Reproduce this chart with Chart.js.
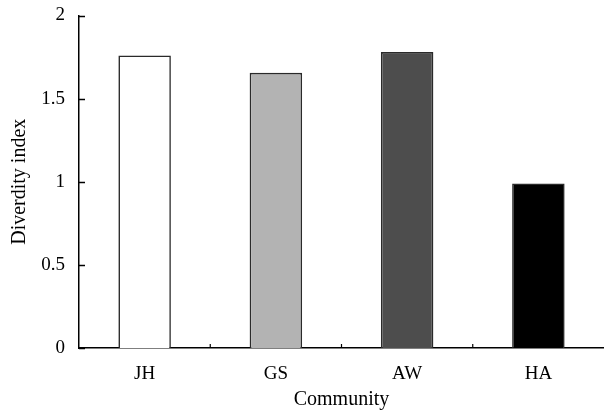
<!DOCTYPE html>
<html>
<head>
<meta charset="utf-8">
<script src="https://cdn.jsdelivr.net/npm/chart.js@4"></script>
<style>
html,body{margin:0;padding:0;background:#fff;}
#wrap{width:604px;height:412px;}
</style>
</head>
<body>
<div id="wrap"><canvas id="c" width="604" height="412"></canvas></div>
<script>
const categories = ['JH', 'GS', 'AW', 'HA'];
const diversityValues = [1.76, 1.655, 1.78, 0.99];
const yTickValues = [0, 0.5, 1, 1.5, 2];
const barColors = ['#ffffff', '#b3b3b3', '#4d4d4d', '#000000'];

const FONT = 'Liberation Serif, Times New Roman, serif';

const tickPlugin = {
  id: 'inwardTicks',
  afterDraw(chart) {
    const ctx = chart.ctx;
    const x = chart.scales.x, y = chart.scales.y;
    const area = chart.chartArea;
    ctx.save();
    ctx.strokeStyle = '#000';
    ctx.lineWidth = 1.5;
    yTickValues.forEach(v => {
      const py = Math.round(y.getPixelForValue(v)) + 0.5;
      ctx.beginPath();
      ctx.moveTo(area.left, py);
      ctx.lineTo(area.left + 6, py);
      ctx.stroke();
    });
    ctx.lineWidth = 1.2;
    for (let i = 1; i < categories.length; i++) {
      const px = (x.getPixelForValue(i - 1) + x.getPixelForValue(i)) / 2;
      ctx.beginPath();
      ctx.moveTo(px, area.bottom);
      ctx.lineTo(px, area.bottom - 4);
      ctx.stroke();
    }
    ctx.restore();
  }
};

new Chart(document.getElementById('c'), {
  type: 'bar',
  data: {
    labels: categories,
    datasets: [{
      data: diversityValues,
      backgroundColor: barColors,
      borderColor: '#2a2a2a',
      borderWidth: 1.6,
      barPercentage: 0.4,
      categoryPercentage: 1.0
    }]
  },
  options: {
    responsive: false,
    animation: false,
    devicePixelRatio: 1,
    layout: { padding: { top: 14, right: 0, left: 0, bottom: 0 } },
    plugins: { legend: { display: false }, tooltip: { enabled: false } },
    scales: {
      x: {
        grid: { display: false },
        border: { display: true, color: '#000', width: 1.5 },
        ticks: { color: '#000', font: { family: FONT, size: 19, lineHeight: 1.0 }, padding: 9, maxRotation: 0 },
        title: { display: true, text: 'Community', color: '#000', font: { family: FONT, size: 20 }, padding: { top: 0, bottom: 0 } },
        afterFit(s) { s.height = 64; }
      },
      y: {
        min: 0, max: 2,
        grid: { display: false },
        border: { display: true, color: '#000', width: 1.5 },
        afterBuildTicks(s) { s.ticks = yTickValues.map(v => ({ value: v })); },
        ticks: { color: '#000', font: { family: FONT, size: 19, lineHeight: 1.0 }, padding: 6,
                 callback: v => String(v) },
        title: { display: true, text: 'Diverdity index', color: '#000', font: { family: FONT, size: 20 }, padding: { top: 8, bottom: 0 } },
        afterFit(s) { s.width = 79; }
      }
    }
  },
  plugins: [tickPlugin]
});
</script>
</body>
</html>
